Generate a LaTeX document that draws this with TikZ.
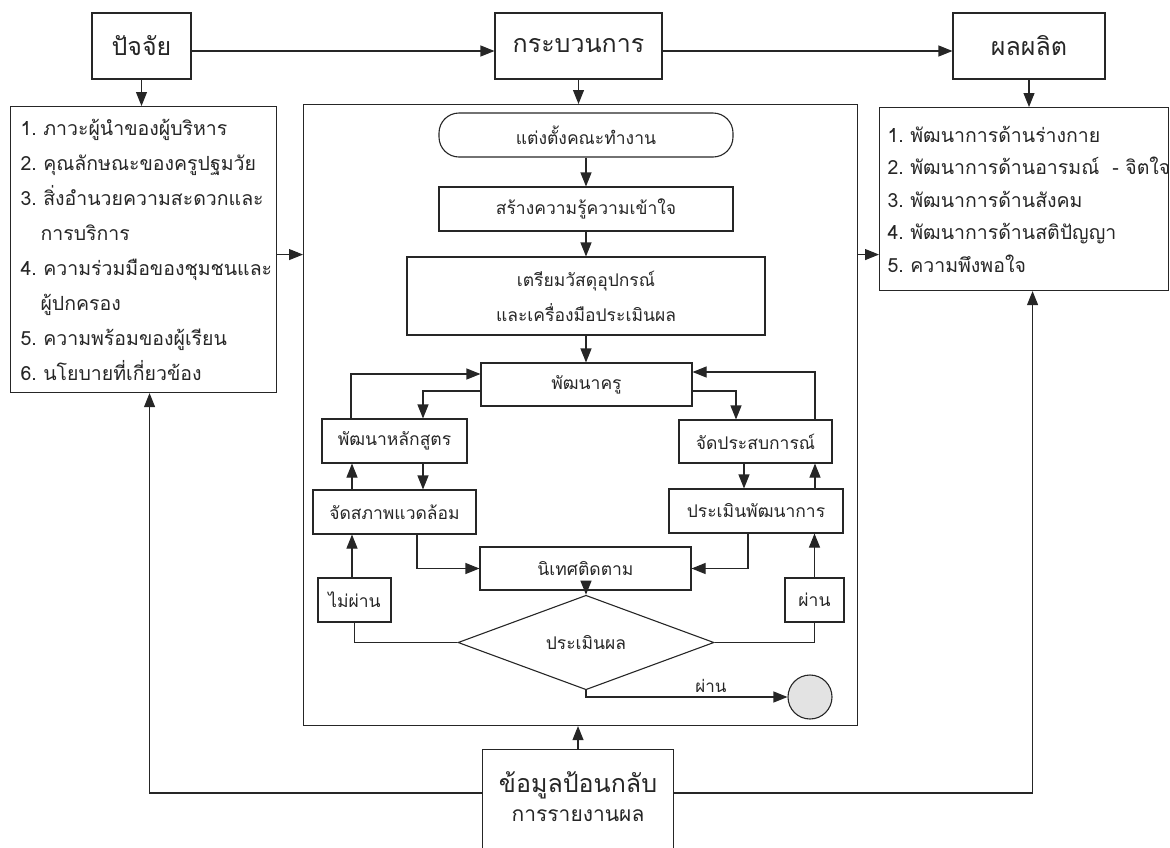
\documentclass[tikz,border=0pt]{standalone}
\usepackage{fontspec}
\setmainfont[Script=Thai]{Loma}
\usetikzlibrary{arrows.meta,shapes.geometric}

\begin{document}
\begin{tikzpicture}[x=1pt,y=-1pt,>={Triangle[length=14pt,width=11pt]},
  line width=1.1pt,black!85,every node/.style={inner sep=0pt},
  head node/.style={draw,minimum height=66pt,font=\fontsize{25}{30}\selectfont},
  list node/.style={draw,align=left,anchor=north west},
  step node/.style={draw,minimum height=44pt,font=\fontsize{17.5}{22}\selectfont},
  small node/.style={font=\fontsize{17}{20}\selectfont}]

  \useasboundingbox (0,0) rectangle (1170,847);
  \clip (0,0) rectangle (1170,847);

  % top row
  \node[head node, minimum width=99pt] (pj) at (141.5,46) {ปัจจัย};
  \node[head node, minimum width=167pt] (kb) at (578.5,46) {กระบวนการ};
  \node[head node, minimum width=152pt] (pp) at (1029,46) {ผลผลิต};

  \node[list node, minimum width=266pt, minimum height=286pt, text width=246pt,
    font=\fontsize{19.5}{35}\selectfont] (factors) at (10,106)
    {1.~ภาวะผู้นำของผู้บริหาร\\
     2.~คุณลักษณะของครูปฐมวัย\\
     3.~สิ่งอำนวยความสะดวกและ\\
     \hspace*{20pt}การบริการ\\
     4.~ความร่วมมือของชุมชนและ\\
     \hspace*{20pt}ผู้ปกครอง\\
     5.~ความพร้อมของผู้เรียน\\
     6.~นโยบายที่เกี่ยวข้อง};
  \node[draw, anchor=north west, minimum width=554pt, minimum height=621pt] (proc) at (303,104) {};
  \node[list node, minimum width=289pt, minimum height=183pt, text width=273pt,
    font=\fontsize{19.5}{32.5}\selectfont] (outs) at (879,107)
    {1.~พัฒนาการด้านร่างกาย\\
     \mbox{2.~พัฒนาการด้านอารมณ์~~-~จิตใจ}\\
     3.~พัฒนาการด้านสังคม\\
     4.~พัฒนาการด้านสติปัญญา\\
     5.~ความพึงพอใจ};

  % feedback box runs off the bottom edge
  \node[minimum width=190pt, minimum height=94pt, align=center,
    font=\fontsize{25}{29}\selectfont] (fb) at (578,797)
    {ข้อมูลป้อนกลับ\\
     {\fontsize{21}{29}\selectfont การรายงานผล}};
  \draw ([yshift=-40]fb.south west) |- (fb.north east) -- ([yshift=-40]fb.south east);

  % steps inside the process box
  \node[step node, minimum width=294pt, rounded corners=20pt] (start) at (586,135) {แต่งตั้งคณะทำงาน};
  \node[step node, minimum width=294pt] (s2) at (586,209) {สร้างความรู้ความเข้าใจ};
  \node[step node, minimum width=358pt, minimum height=78pt, align=center,
    font=\fontsize{17.5}{35}\selectfont] (s3) at (586,296) {เตรียมวัสดุอุปกรณ์\\และเครื่องมือประเมินผล};
  \node[step node, minimum width=211pt, minimum height=43pt] (s4) at (586.5,384.5) {พัฒนาครู};
  \node[step node, minimum width=145pt] (L1) at (394.5,441) {พัฒนาหลักสูตร};
  \node[step node, minimum width=163pt] (L2) at (394.5,512) {จัดสภาพแวดล้อม};
  \node[step node, minimum width=153pt, minimum height=43pt] (R1) at (755.5,441.5) {จัดประสบการณ์};
  \node[step node, minimum width=174pt] (R2) at (756,511) {ประเมินพัฒนาการ};
  \node[step node, minimum width=211pt, minimum height=43pt] (sv) at (585.5,568.5) {นิเทศติดตาม};
  \node[step node, diamond, minimum width=256pt, minimum height=57pt] (ev) at (586,642.5) {ประเมินผล};
  \node[step node, minimum width=73pt] (fail) at (354.5,600) {ไม่ผ่าน};
  \node[step node, minimum width=59pt] (pass) at (814.5,600) {ผ่าน};
  \node[draw, circle, fill=gray!22, minimum size=44pt] (fin) at (810,697) {};

  % outer arrows
  \draw[->] ([yshift=-5]pj.east) -- ([yshift=-5]kb.west);
  \draw[->] ([yshift=-5]kb.east) -- ([yshift=-5]pp.west);
  \draw[->] (pj.south) -- (pj.south |- factors.north);
  \draw[->] (kb.south) -- (kb.south |- proc.north);
  \draw[->] (pp.south) -- (pp.south |- outs.north);
  \draw[->] ([yshift=-5]factors.east) -- ([yshift=-5]factors.east -| proc.west);
  \draw[->] ([yshift=-5]factors.east -| proc.east) -- ([yshift=-5]factors.east -| outs.west);
  \draw[->] (fb.north) -- (fb.north |- proc.south);
  \draw[->] ([yshift=4]fb.west) -| ([xshift=6]factors.south);
  \draw[->] ([yshift=4]fb.east) -| ([xshift=8.5]outs.south);

  % main chain
  \draw[->] (start) -- (s2);
  \draw[->] (s2) -- (s3);
  \draw[->] (s3.south) -- (s3.south |- s4.north);
  \draw[->] (ev.north |- sv.south) -- (ev.north);

  % left loop
  \draw[->] ([xshift=-43.5]L1.north) |- ([yshift=10.5]s4.west);
  \draw[->] ([yshift=-6.5]s4.west) -| ([xshift=28.5]L1.north);
  \draw[->] ([xshift=28.5]L1.south) -- ([xshift=28.5]L1.south |- L2.north);
  \draw[->] ([xshift=-42.5]L2.north) -- ([xshift=-42.5]L2.north |- L1.south);
  \draw[->] ([xshift=-42.5]L2.south |- fail.north) -- ([xshift=-42.5]L2.south);
  \draw[->] ([xshift=22.5]L2.south) |- (sv.west);

  % right loop
  \draw[->] ([yshift=-6.5]s4.east) -| ([xshift=-19.5]R1.north);
  \draw[->] ([xshift=59.5]R1.north) |- ([yshift=12.5]s4.east);
  \draw[->] ([xshift=-11.5]R1.south) -- ([xshift=-11.5]R1.south |- R2.north);
  \draw[->] ([xshift=59.5]R1.south |- R2.north) -- ([xshift=59.5]R1.south);
  \draw[->] (pass.north) -- (pass.north |- R2.south);
  \draw[->] ([xshift=-8]R2.south) |- (sv.east);

  % decision
  \draw (ev.west) -| (fail.south);
  \draw (ev.east) -| (pass.south);
  \draw[->] (ev.south) |- (fin.west) node[small node, pos=0.81, above=4pt] {ผ่าน};
\end{tikzpicture}
\end{document}
